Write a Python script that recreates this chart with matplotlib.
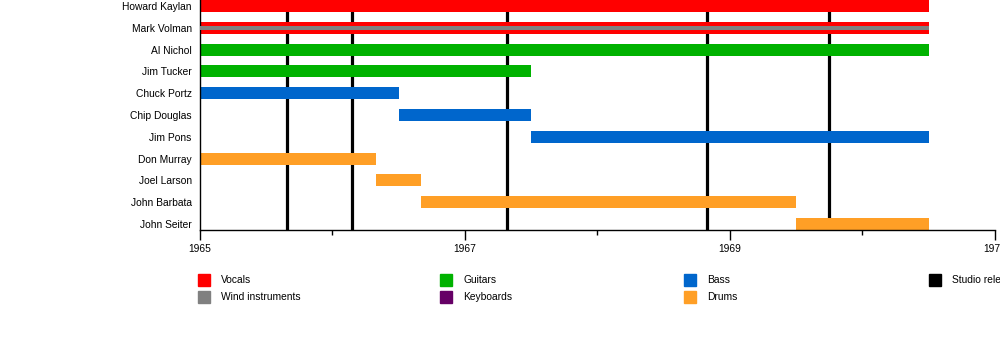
import matplotlib.pyplot as plt
from matplotlib.patches import Rectangle

plt.rcParams['font.family'] = ['Liberation Sans', 'DejaVu Sans']
plt.rcParams['font.size'] = 7.4

# band members, top to bottom
members = ['Howard Kaylan', 'Mark Volman', 'Al Nichol', 'Jim Tucker', 'Chuck Portz',
           'Chip Douglas', 'Jim Pons', 'Don Murray', 'Joel Larson', 'John Barbata',
           'John Seiter']
start = [1965.0, 1965.0, 1965.0, 1965.0, 1965.0, 1966.5, 1967.5, 1965.0, 1966.33, 1966.67, 1969.5]
end = [1970.5, 1970.5, 1970.5, 1967.5, 1966.5, 1967.5, 1970.5, 1966.33, 1966.67, 1969.5, 1970.5]
role = ['Vocals', 'Vocals', 'Guitars', 'Guitars', 'Bass', 'Bass', 'Bass',
        'Drums', 'Drums', 'Drums', 'Drums']

# secondary instruments drawn as a thin stripe inside the main bar
extra_member = ['Mark Volman']
extra_role = ['Wind instruments']

# studio album release dates
releases = [1965.66, 1966.15, 1967.32, 1968.83, 1969.75]

colors = {
    'Vocals': '#ff0000',
    'Wind instruments': '#808080',
    'Guitars': '#00b200',
    'Keyboards': '#660066',
    'Bass': '#0066cc',
    'Drums': '#ff9f26',
    'Studio releases': '#000000',
}
legend_order = ['Vocals', 'Wind instruments', 'Guitars', 'Keyboards', 'Bass', 'Drums',
                'Studio releases']

fig = plt.figure(figsize=(10, 3.5), dpi=100)
ax = fig.add_axes([0.2, 1 - 230 / 350, 0.795, 230 / 350])

bar_h = 12 / 22
for x in releases:
    ax.axvline(x, color='black', lw=2.3, zorder=1)

for i, m in enumerate(members):
    ax.barh(i, end[i] - start[i], left=start[i], height=bar_h,
            color=colors[role[i]], zorder=2)

for m, r in zip(extra_member, extra_role):
    i = members.index(m)
    ax.barh(i, end[i] - start[i], left=start[i], height=bar_h / 3,
            color=colors[r], zorder=3)

ax.set_xlim(1965, 1971)
ax.set_ylim(len(members) - 1 + bar_h / 2, -bar_h / 2)
ax.set_yticks(range(len(members)))
ax.set_yticklabels(members)
ax.tick_params(axis='y', length=0, pad=6)
ax.set_xticks([1965, 1967, 1969, 1971])
ax.set_xticks([1966, 1968, 1970], minor=True)
ax.tick_params(axis='x', which='major', length=7, width=1, pad=3)
ax.tick_params(axis='x', which='minor', length=3.5, width=1)
for s in ['top', 'right']:
    ax.spines[s].set_visible(False)
for s in ['left', 'bottom']:
    ax.spines[s].set_linewidth(1)

# legend: two rows, four columns
W, H = 1000, 350
col_x = [198, 440, 684, 929]
for k, name in enumerate(legend_order):
    col, row = k // 2, k % 2
    px = col_x[col]
    py = 274 + row * 17
    fig.add_artist(Rectangle((px / W, 1 - (py + 12) / H), 12 / W, 12 / H,
                             transform=fig.transFigure, color=colors[name]))
    fig.text((px + 23) / W, 1 - (py + 6) / H, name, va='center', ha='left')

fig.savefig('out.png', dpi=100)
